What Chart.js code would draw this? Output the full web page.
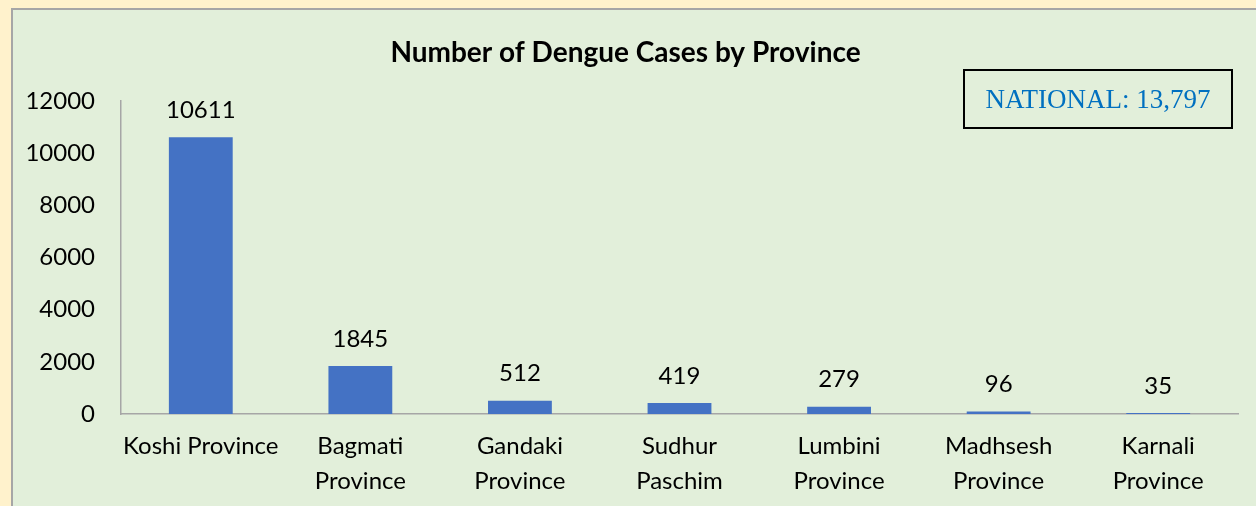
<!DOCTYPE html>
<html>
<head>
<meta charset="utf-8">
<script src="https://cdn.jsdelivr.net/npm/chart.js@4.4.0/dist/chart.umd.min.js"></script>
<style>
    html, body { margin: 0; padding: 0; }
    body { width: 1256px; height: 506px; background: #FFF2CC; position: relative; overflow: hidden; }
    .panel {
        position: absolute; left: 11px; top: 8px; width: 1243px; height: 496px;
        background: #E2EFDA; border-left: 2px solid #A6A6A6; border-top: 2px solid #A6A6A6;
    }
    .national {
        position: absolute; left: 963px; top: 69px; width: 266px; height: 56px;
        border: 2px solid #000; box-sizing: content-box;
        font-family: "Liberation Serif", "DejaVu Serif", serif; font-size: 27px;
        color: #0070C0; display: flex; align-items: center; justify-content: center;
    }
</style>
</head>
<body>
<div class="panel"><canvas id="chart"></canvas></div>
<div class="national">NATIONAL: 13,797</div>
<script>
// chart data
const provinces = [
    'Koshi Province',
    ['Bagmati', 'Province'],
    ['Gandaki', 'Province'],
    ['Sudhur', 'Paschim'],
    ['Lumbini', 'Province'],
    ['Madhsesh', 'Province'],
    ['Karnali', 'Province']
];
const cases = [10611, 1845, 512, 419, 279, 96, 35];
const yTicks = [0, 2000, 4000, 6000, 8000, 10000, 12000];

// value labels above the bars
const barLabels = {
    id: 'barLabels',
    afterDatasetsDraw(chart) {
        const ctx = chart.ctx;
        const meta = chart.getDatasetMeta(0);
        ctx.save();
        ctx.font = '24px Lato';
        ctx.fillStyle = '#000';
        ctx.textAlign = 'center';
        ctx.textBaseline = 'middle';
        meta.data.forEach((bar, i) => {
            ctx.fillText(cases[i], bar.x, bar.y - 27);
        });
        ctx.restore();
    }
};

document.addEventListener('DOMContentLoaded', function() {
    const ctx = document.getElementById('chart').getContext('2d');

    new Chart(ctx, {
        type: 'bar',
        data: {
            labels: provinces,
            datasets: [{
                label: 'Cases',
                data: cases,
                backgroundColor: '#4472C4',
                borderWidth: 0,
                categoryPercentage: 1,
                barPercentage: 0.4
            }]
        },
        options: {
            responsive: true,
            maintainAspectRatio: false,
            animation: false,
            layout: { padding: { left: 0, right: 18, top: 0, bottom: 0 } },
            plugins: {
                legend: { display: false },
                tooltip: { enabled: false },
                title: {
                    display: true,
                    text: 'Number of Dengue Cases by Province',
                    color: '#000',
                    font: { family: 'Lato', size: 28, weight: 'bold', lineHeight: 1.2 },
                    padding: { top: 26.5, bottom: 31 }
                }
            },
            scales: {
                x: {
                    grid: { display: false, drawTicks: false },
                    border: { display: true, color: '#A6A6A6', width: 1.5 },
                    ticks: {
                        color: '#000',
                        font: { family: 'Lato', size: 24, lineHeight: 1.46 },
                        padding: 14.5,
                        maxRotation: 0,
                        autoSkip: false
                    },
                    afterFit(scale) { scale.height = 92; }
                },
                y: {
                    min: 0,
                    max: 12000,
                    afterBuildTicks(scale) { scale.ticks = yTicks.map(v => ({ value: v })); },
                    grid: { display: false, drawTicks: false },
                    border: { display: true, color: '#A6A6A6', width: 1.5 },
                    ticks: {
                        color: '#000',
                        font: { family: 'Lato', size: 24 },
                        padding: 26,
                        callback: v => String(v)
                    },
                    afterFit(scale) { scale.width = 108; }
                }
            }
        },
        plugins: [barLabels]
    });
});
</script>
</body>
</html>
